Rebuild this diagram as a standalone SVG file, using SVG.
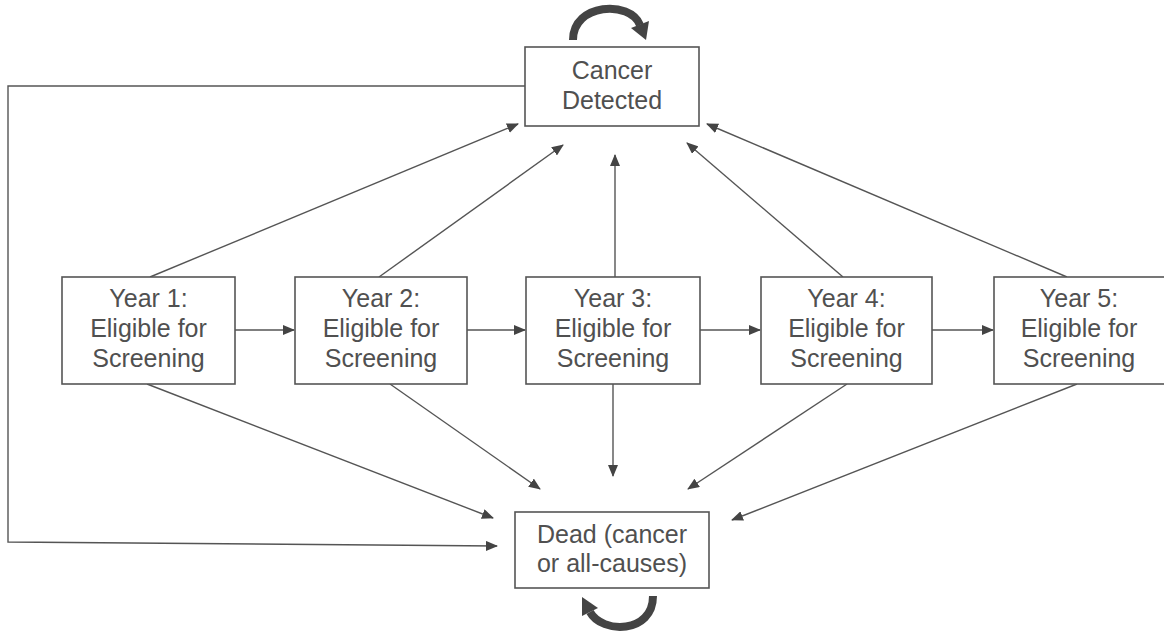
<svg xmlns="http://www.w3.org/2000/svg" width="1164" height="632" viewBox="0 0 1164 632">
<style>
.box{fill:#fff;stroke:#555;stroke-width:1.6}
.lbl{font-family:"Liberation Sans",Arial,sans-serif;font-size:25px;fill:#505050;text-anchor:middle}
.conn{fill:none;stroke:#555;stroke-width:1.4;marker-end:url(#ah)}
.loop{fill:none;stroke:#444;stroke-width:8}
.loophead{fill:#444}
</style>
<defs>
<marker id="ah" viewBox="0 0 12 10" refX="11" refY="5" markerWidth="12" markerHeight="10" markerUnits="userSpaceOnUse" orient="auto">
<path d="M0,0 L12,5 L0,10 Z" fill="#444"/>
</marker>
</defs>
<rect width="1164" height="632" fill="#fff"/>
<g id="connectors">
<line class="conn" x1="150" y1="277" x2="518" y2="124"/>
<line class="conn" x1="379" y1="277" x2="563" y2="145"/>
<line class="conn" x1="615" y1="277" x2="615" y2="155"/>
<line class="conn" x1="843" y1="277" x2="687" y2="143"/>
<line class="conn" x1="1067" y1="277" x2="707" y2="124"/>
<line class="conn" x1="235" y1="330" x2="294" y2="330"/>
<line class="conn" x1="467" y1="330" x2="525" y2="330"/>
<line class="conn" x1="700" y1="330" x2="760" y2="330"/>
<line class="conn" x1="932" y1="330" x2="993" y2="330"/>
<line class="conn" x1="147" y1="384" x2="493" y2="518"/>
<line class="conn" x1="390" y1="384" x2="540" y2="489"/>
<line class="conn" x1="613" y1="384" x2="613" y2="476"/>
<line class="conn" x1="847" y1="384" x2="688" y2="489"/>
<line class="conn" x1="1077" y1="384" x2="732" y2="520"/>
<polyline class="conn" points="525,86 8,86 8,542 497,546"/>
<path class="loop" d="M573 40 C573 3 630 0 640 25"/>
<polygon class="loophead" points="646,40 649,21 631,28"/>
<path class="loop" d="M653 596 C653 634 602 634 590 612"/>
<polygon class="loophead" points="582,597 598,608 582,616"/>
</g>
<g id="cancer">
<rect class="box" x="525" y="47" width="174" height="79"/>
<text class="lbl" x="612" y="79">Cancer</text>
<text class="lbl" x="612" y="109">Detected</text>
</g>
<g id="dead">
<rect class="box" x="515" y="512" width="194" height="76"/>
<text class="lbl" x="612" y="543">Dead (cancer</text>
<text class="lbl" x="612" y="572">or all-causes)</text>
</g>
<g id="year1">
<rect class="box" x="62" y="277" width="173" height="107"/>
<text class="lbl" x="148.5" y="307">Year 1:</text>
<text class="lbl" x="148.5" y="337">Eligible for</text>
<text class="lbl" x="148.5" y="367">Screening</text>
</g>
<g id="year2">
<rect class="box" x="295" y="277" width="172" height="107"/>
<text class="lbl" x="381" y="307">Year 2:</text>
<text class="lbl" x="381" y="337">Eligible for</text>
<text class="lbl" x="381" y="367">Screening</text>
</g>
<g id="year3">
<rect class="box" x="526" y="277" width="174" height="107"/>
<text class="lbl" x="613" y="307">Year 3:</text>
<text class="lbl" x="613" y="337">Eligible for</text>
<text class="lbl" x="613" y="367">Screening</text>
</g>
<g id="year4">
<rect class="box" x="761" y="277" width="171" height="107"/>
<text class="lbl" x="846.5" y="307">Year 4:</text>
<text class="lbl" x="846.5" y="337">Eligible for</text>
<text class="lbl" x="846.5" y="367">Screening</text>
</g>
<g id="year5">
<rect class="box" x="994" y="277" width="174" height="107"/>
<text class="lbl" x="1079" y="307">Year 5:</text>
<text class="lbl" x="1079" y="337">Eligible for</text>
<text class="lbl" x="1079" y="367">Screening</text>
</g>
</svg>
